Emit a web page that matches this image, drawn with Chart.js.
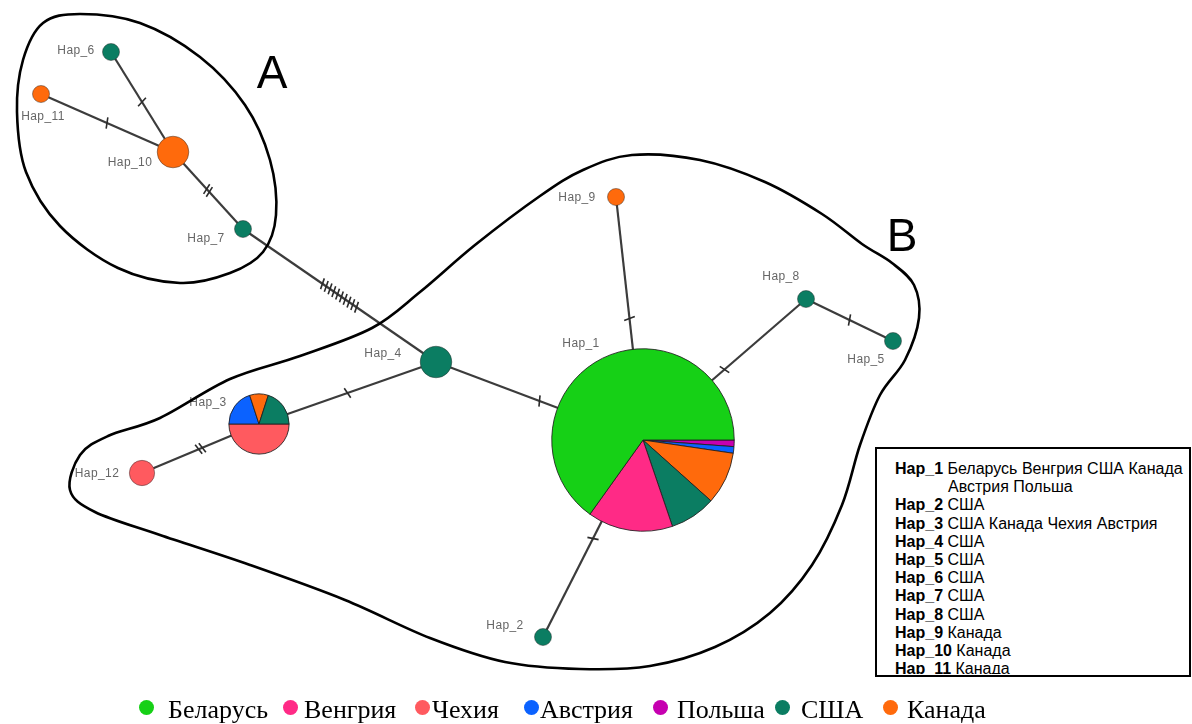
<!DOCTYPE html>
<html>
<head>
<meta charset="utf-8">
<title>Сеть гаплотипов</title>
<script src="https://cdn.jsdelivr.net/npm/chart.js@4.4.1/dist/chart.umd.min.js"></script>
<style>
  html, body { margin: 0; padding: 0; background: #fff; width: 1192px; height: 724px; overflow: hidden; }
  #wrap { position: relative; width: 1192px; height: 724px; }
  #net { position: absolute; left: 0; top: 0; }
  #hapbox {
    position: absolute; left: 875px; top: 447px; width: 316px; height: 230px;
    box-sizing: border-box; border: 2px solid #000; background: #fff;
  }
  #hapbox .inner {
    height: 225px; box-sizing: border-box; overflow: hidden; padding: 11px 0 0 18px;
    font: 16px "Liberation Sans", Arial, sans-serif; line-height: 18.2px; color: #000;
  }
  #hapbox .entry { padding-left: 53px; text-indent: -53px; white-space: normal; }
  #legend { position: absolute; left: 0; top: 690px; width: 1192px; height: 34px;
    font: 26px "Liberation Serif", "Times New Roman", serif; color: #000; }
  #legend .dot { position: absolute; width: 15px; height: 15px; border-radius: 50%; top: 10px; }
  #legend .txt { position: absolute; top: 7px; line-height: 26px; white-space: nowrap; }
</style>
</head>
<body>
<div id="wrap">
  <canvas id="net" width="1192" height="724"></canvas>
  <div id="hapbox"><div class="inner" id="hapList"></div></div>
  <div id="legend"></div>
</div>
<script>
// ---- data ----
const haplotypes = ['Hap_1','Hap_2','Hap_3','Hap_4','Hap_5','Hap_6','Hap_7','Hap_8','Hap_9','Hap_10','Hap_11','Hap_12'];
// network layout coordinates of each haplotype
const nodeX = [643, 543, 259, 436, 893, 111, 243, 806, 616, 173, 41, 142];
const nodeY = [440, 637, 424, 362, 341, 52, 229, 299, 197, 152, 94, 473];

const countries = ['Беларусь','Венгрия','Чехия','Австрия','Польша','США','Канада'];
// sample counts per haplotype, one array per country
const belarus = [56, 0, 0, 0, 0, 0, 0, 0, 0, 0, 0, 0];
const hungary = [13, 0, 0, 0, 0, 0, 0, 0, 0, 0, 0, 0];
const czech   = [ 0, 0, 5, 0, 0, 0, 0, 0, 0, 0, 0, 2];
const austria = [ 1, 0, 2, 0, 0, 0, 0, 0, 0, 0, 0, 0];
const poland  = [ 1, 0, 0, 0, 0, 0, 0, 0, 0, 0, 0, 0];
const usa     = [ 7, 1, 2, 3, 1, 1, 1, 1, 0, 0, 0, 0];
const canada  = [ 8, 0, 1, 0, 0, 0, 0, 0, 1, 3, 1, 0];

// network links and the number of mutational steps on each
const edgeFrom  = ['Hap_6','Hap_11','Hap_10','Hap_7','Hap_4','Hap_3','Hap_4','Hap_9','Hap_1','Hap_8','Hap_1'];
const edgeTo    = ['Hap_10','Hap_10','Hap_7','Hap_4','Hap_3','Hap_12','Hap_1','Hap_1','Hap_8','Hap_5','Hap_2'];
const mutations = [1, 1, 2, 10, 1, 2, 1, 1, 1, 1, 1];

// ---- styling ----
const countryColors = ['#16d016', '#ff2a86', '#ff5a5f', '#0b62ff', '#c600b0', '#0b7d62', '#ff6a0c'];
const sliceOrder = ['Польша','Чехия','Австрия','Канада','США','Венгрия','Беларусь'];
const boxOrder   = ['Беларусь','Венгрия','США','Канада','Чехия','Австрия','Польша'];
// label placement relative to node centre (px)
const labelOffsets = [[-62,-96],[-38,-11],[-51,-21],[-53,-8],[-27,19],[-35,-1],[-37,10],[-25,-22],[-39,1],[-43,11],[2,23],[-45,1]];
// outline anchor points for the two clusters (chart units)
const outlineA = [[43,23],[80,14],[140,23],[200,57],[245,105],[270,160],[276,215],[263,252],[230,273],[180,283],[118,268],[60,226],[26,172],[17,112],[23,60]];
const outlineB = [[583,170],[632,155],[700,160],[765,182],[822,214],[862,244],[892,263],[914,285],[919,318],[905,360],[880,395],[860,445],[842,505],[812,565],[770,613],[715,647],[650,666],[580,669],[505,662],[430,638],[345,600],[250,565],[160,535],[95,512],[70,490],[80,455],[108,436],[160,418],[230,379],[300,356],[372,328],[420,292],[475,245],[540,196]];

const countBy = [belarus, hungary, czech, austria, poland, usa, canada];
const totals = haplotypes.map((_, i) => countBy.reduce((s, arr) => s + arr[i], 0));
const colorOf = name => countryColors[countries.indexOf(name)];
const nodeRadius = n => 10 * Math.sqrt(n) - 1.5;
const idx = name => haplotypes.indexOf(name);
const singleColor = i => {
  const present = countries.filter((c, k) => countBy[k][i] > 0);
  return present.length === 1 ? colorOf(present[0]) : null;
};

// ---- hap table (right box) ----
const box = document.getElementById('hapList');
haplotypes.forEach((h, i) => {
  const names = boxOrder.filter(c => countBy[countries.indexOf(c)][i] > 0);
  const div = document.createElement('div');
  div.className = 'entry';
  const b = document.createElement('b');
  b.textContent = h;
  div.appendChild(b);
  div.appendChild(document.createTextNode(' ' + names.join(' ')));
  box.appendChild(div);
});

// ---- country legend (bottom) ----
const legendDotX = [139, 283, 415, 524, 653, 775, 883];
const legendTxtX = [168, 304, 432, 540, 677, 801, 907];
const legend = document.getElementById('legend');
countries.forEach((c, k) => {
  const d = document.createElement('div');
  d.className = 'dot';
  d.style.left = legendDotX[k] + 'px';
  d.style.background = countryColors[k];
  legend.appendChild(d);
  const t = document.createElement('div');
  t.className = 'txt';
  t.style.left = legendTxtX[k] + 'px';
  t.textContent = c;
  legend.appendChild(t);
});

// ---- drawing helpers ----
function closedSpline(ctx, pts) {
  const n = pts.length;
  ctx.beginPath();
  ctx.moveTo(pts[0][0], pts[0][1]);
  for (let i = 0; i < n; i++) {
    const p0 = pts[(i - 1 + n) % n], p1 = pts[i], p2 = pts[(i + 1) % n], p3 = pts[(i + 2) % n];
    ctx.bezierCurveTo(
      p1[0] + (p2[0] - p0[0]) / 6, p1[1] + (p2[1] - p0[1]) / 6,
      p2[0] - (p3[0] - p1[0]) / 6, p2[1] - (p3[1] - p1[1]) / 6,
      p2[0], p2[1]);
  }
  ctx.closePath();
}

const networkDecor = {
  id: 'networkDecor',
  afterDatasetsDraw(chart) {
    const ctx = chart.ctx;
    const xs = chart.scales.x, ys = chart.scales.y;
    const px = i => xs.getPixelForValue(nodeX[i]);
    const py = i => ys.getPixelForValue(nodeY[i]);
    ctx.save();

    // mutation hatches at the middle of each link
    ctx.strokeStyle = '#2a2a2a';
    ctx.lineWidth = 1.6;
    edgeFrom.forEach((f, e) => {
      const a = idx(f), b = idx(edgeTo[e]);
      const x1 = px(a), y1 = py(a), x2 = px(b), y2 = py(b);
      const len = Math.hypot(x2 - x1, y2 - y1);
      const ux = (x2 - x1) / len, uy = (y2 - y1) / len;
      const nx = -uy, ny = ux;
      const mx = (x1 + x2) / 2, my = (y1 + y2) / 2;
      const m = mutations[e], gap = m > 2 ? 4.6 : 4;
      for (let k = 0; k < m; k++) {
        const s = (k - (m - 1) / 2) * gap;
        const cx = mx + ux * s, cy = my + uy * s;
        ctx.beginPath();
        ctx.moveTo(cx - nx * 5.5 - ux * 1.5, cy - ny * 5.5 - uy * 1.5);
        ctx.lineTo(cx + nx * 5.5 + ux * 1.5, cy + ny * 5.5 + uy * 1.5);
        ctx.stroke();
      }
    });

    // mixed haplotypes as pies
    haplotypes.forEach((h, i) => {
      if (singleColor(i)) return;
      const cx = px(i), cy = py(i), r = nodeRadius(totals[i]);
      let a0 = 0;
      sliceOrder.forEach(c => {
        const v = countBy[countries.indexOf(c)][i];
        if (!v) return;
        const a1 = a0 + v / totals[i] * Math.PI * 2;
        ctx.beginPath();
        ctx.moveTo(cx, cy);
        ctx.arc(cx, cy, r, a0, a1);
        ctx.closePath();
        ctx.fillStyle = colorOf(c);
        ctx.fill();
        ctx.strokeStyle = 'rgba(30,30,30,0.85)';
        ctx.lineWidth = 1;
        ctx.stroke();
        a0 = a1;
      });
    });

    // haplotype labels
    ctx.fillStyle = '#666';
    ctx.font = '12px "Liberation Sans", Arial, sans-serif';
    if ('letterSpacing' in ctx) ctx.letterSpacing = '0.4px';
    ctx.textAlign = 'center';
    ctx.textBaseline = 'middle';
    haplotypes.forEach((h, i) => {
      ctx.fillText(h, px(i) + labelOffsets[i][0], py(i) + labelOffsets[i][1]);
    });
    if ('letterSpacing' in ctx) ctx.letterSpacing = '0px';

    // cluster outlines
    ctx.strokeStyle = '#000';
    ctx.lineWidth = 2.6;
    [outlineA, outlineB].forEach(o => {
      const pts = o.map(p => [xs.getPixelForValue(p[0]), ys.getPixelForValue(p[1])]);
      closedSpline(ctx, pts);
      ctx.stroke();
    });

    // cluster letters
    ctx.fillStyle = '#000';
    ctx.font = '46px "Liberation Sans", Arial, sans-serif';
    ctx.textBaseline = 'alphabetic';
    ctx.fillText('A', xs.getPixelForValue(272), ys.getPixelForValue(88));
    ctx.fillText('B', xs.getPixelForValue(902), ys.getPixelForValue(251));
    ctx.restore();
  }
};

const nodePoints = haplotypes.map((h, i) => ({ x: nodeX[i], y: nodeY[i] }));
const edgeSets = edgeFrom.map((f, e) => ({
  type: 'scatter',
  data: [nodePoints[idx(f)], nodePoints[idx(edgeTo[e])]],
  showLine: true,
  borderColor: '#3c3c3c',
  borderWidth: 2.2,
  pointRadius: 0,
  order: 2
}));

new Chart(document.getElementById('net'), {
  type: 'scatter',
  data: {
    datasets: [{
      label: 'haplotypes',
      data: nodePoints,
      order: 0,
      pointRadius: c => nodeRadius(totals[c.dataIndex]),
      pointHoverRadius: c => nodeRadius(totals[c.dataIndex]),
      backgroundColor: c => singleColor(c.dataIndex) || 'rgba(0,0,0,0)',
      borderColor: c => singleColor(c.dataIndex) ? 'rgba(40,40,40,0.45)' : 'rgba(0,0,0,0)',
      borderWidth: 1
    }, ...edgeSets]
  },
  options: {
    responsive: false,
    animation: false,
    events: [],
    layout: { padding: 0, autoPadding: false },
    plugins: { legend: { display: false }, tooltip: { enabled: false } },
    scales: {
      x: { type: 'linear', min: 0, max: 1192, display: false },
      y: { type: 'linear', min: 0, max: 724, reverse: true, display: false }
    }
  },
  plugins: [networkDecor]
});
</script>
</body>
</html>
